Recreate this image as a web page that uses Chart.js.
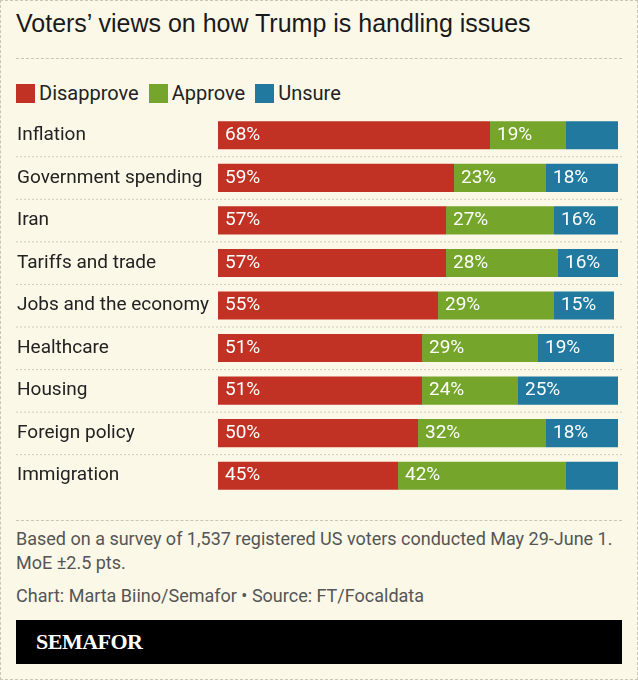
<!DOCTYPE html>
<html><head><meta charset="utf-8">
<script src="https://cdn.jsdelivr.net/npm/chart.js@4"></script>
<style>
  body { margin:0; background:#fbf8e8; font-family:'Liberation Sans Narrow','Roboto',sans-serif; }
  .frame { position:relative; width:636px; height:678px; border:1px dashed #c9c6b6; }
  h1 { position:absolute; left:15px; top:8px; margin:0; font:400 25px 'Liberation Sans','Roboto',sans-serif; color:#1a1a1a; }
  .sep { position:absolute; left:15px; right:15px; border-top:1px dashed #c9c6b6; }
  .legend { position:absolute; left:15px; top:80px; display:flex; gap:10px; font-size:20px; color:#222; }
  .legend span { display:flex; align-items:center; gap:4px; }
  .legend i { display:inline-block; width:19px; height:19px; }
  #wrap { position:absolute; left:0; top:113px; width:638px; height:383px; }
  .note { position:absolute; left:15px; font-size:18px; color:#555; line-height:24px; }
  .brand { position:absolute; left:15px; right:15px; top:619px; height:44px; background:#000; }
  .brand b { position:absolute; left:20px; top:9px; color:#fff; font:700 22px 'Liberation Serif',serif; letter-spacing:-0.5px; }
</style></head>
<body><div class="frame">
<h1>Voters’ views on how Trump is handling issues</h1>
<div class="sep" style="top:57px"></div>
<div class="legend">
  <span><i style="background:#c13224"></i>Disapprove</span>
  <span><i style="background:#75a62b"></i>Approve</span>
  <span><i style="background:#21799f"></i>Unsure</span>
</div>
<div id="wrap"><canvas id="c"></canvas></div>
<div class="sep" style="top:519px"></div>
<div class="note" style="top:526px">Based on a survey of 1,537 registered US voters conducted May 29-June 1.<br>MoE ±2.5 pts.</div>
<div class="note" style="top:583px">Chart: Marta Biino/Semafor • Source: FT/Focaldata</div>
<div class="brand"><b>SEMAFOR</b></div>
</div>
<script>
const issues = ['Inflation','Government spending','Iran','Tariffs and trade','Jobs and the economy','Healthcare','Housing','Foreign policy','Immigration'];
const disapprove = [68,59,57,57,55,51,51,50,45];
const approve    = [19,23,27,28,29,29,24,32,42];
const unsure     = [13,18,16,16,15,19,25,18,13];
const FONT = "'Liberation Sans Narrow','Roboto',sans-serif";

const rowPlugin = {
  id:'rows',
  afterDatasetsDraw(chart) {
    const ctx = chart.ctx, y = chart.scales.y, a = chart.chartArea;
    ctx.save();
    ctx.font = '19px ' + FONT;
    ctx.textBaseline = 'middle';
    issues.forEach((lab, i) => {
      const cy = y.getPixelForValue(i);
      ctx.fillStyle = '#222'; ctx.textAlign = 'left';
      ctx.fillText(lab, 16, cy);
      if (i < issues.length - 1) {
        ctx.strokeStyle = '#cfccbc'; ctx.setLineDash([2,2]); ctx.lineWidth = 1;
        ctx.beginPath(); ctx.moveTo(15, cy + 21.5); ctx.lineTo(623, cy + 21.5); ctx.stroke();
      }
    });
    ctx.fillStyle = '#fff';
    chart.data.datasets.forEach((ds, di) => {
      chart.getDatasetMeta(di).data.forEach((bar, i) => {
        if (ds.data[i] < 14) return;
        ctx.fillText(ds.data[i] + '%', bar.base + 7, bar.y);
      });
    });
    ctx.restore();
  }
};

new Chart(document.getElementById('c'), {
  type:'bar',
  data:{ labels:issues, datasets:[
    { label:'Disapprove', data:disapprove, backgroundColor:'#c13224' },
    { label:'Approve', data:approve, backgroundColor:'#75a62b' },
    { label:'Unsure', data:unsure, backgroundColor:'#21799f' }
  ]},
  options:{
    indexAxis:'y', responsive:true, maintainAspectRatio:false, animation:false,
    layout:{ padding:{ left:217, right:21, top:0, bottom:0 } },
    datasets:{ bar:{ categoryPercentage:1, barPercentage:0.66 } },
    plugins:{ legend:{ display:false }, tooltip:{ enabled:false } },
    scales:{
      x:{ stacked:true, min:0, max:100, display:false },
      y:{ stacked:true, display:false }
    }
  },
  plugins:[rowPlugin]
});
</script>
</body></html>
